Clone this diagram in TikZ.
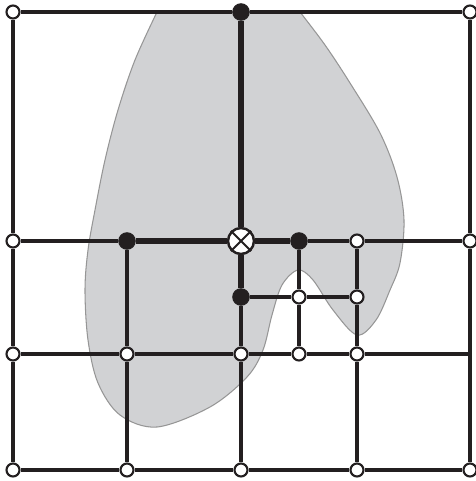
\documentclass[tikz,border=0pt]{standalone}
\usepackage{xcolor}
\usepackage{tikz}
\definecolor{inkdark}{HTML}{231F20}
\definecolor{blobgray}{HTML}{D1D2D4}
\definecolor{blobline}{HTML}{969696}

\begin{document}
\begin{tikzpicture}[x=0.02cm, y=-0.02cm,
    wnode/.style={circle, draw=inkdark, fill=white, line width=1.2pt, inner sep=0pt, minimum size=0.26cm},
    bnode/.style={circle, draw=inkdark, fill=inkdark, line width=0.6pt, inner sep=0pt, minimum size=0.33cm},
    xnode/.style={circle, draw=inkdark, fill=white, line width=1.4pt, inner sep=0pt, minimum size=0.52cm},
    edge/.style={inkdark, line width=2.2pt},
    bold edge/.style={inkdark, line width=3.4pt}]
      \useasboundingbox (0,0) rectangle (476,481);
      \filldraw[fill=blobgray, draw=blobline, line width=0.6pt]
        plot[smooth, tension=0.55] coordinates {(157,12) (135,60) (118,110) (105,160) (95,210) (88,250) (85,290) (88,340) (98,383) (120,415) (157,427) (210,407) (247,377) (263,350) (272,315) (282,285) (298,270) (313,280) (333,310) (357,335) (376,320) (390,290) (400,263) (404,220) (397,177) (380,133) (350,83) (325,45) (300,12)} -- cycle;

      \node[wnode] (tl) at (13,12) {};
      \node[bnode] (tm) at (241,12) {};
      \node[wnode] (tr) at (470,12) {};
      \node[wnode] (ml) at (13,241) {};
      \node[bnode] (m1) at (127,241) {};
      \node[xnode] (mx) at (241,241) {};
      \node[bnode] (m3) at (299,241) {};
      \node[wnode] (m4) at (357,241) {};
      \node[wnode] (mr) at (470,241) {};
      \node[bnode] (s2) at (241,297) {};
      \node[wnode] (s3) at (299,297) {};
      \node[wnode] (s4) at (357,297) {};
      \node[wnode] (l0) at (13,354) {};
      \node[wnode] (l1) at (127,354) {};
      \node[wnode] (l2) at (241,354) {};
      \node[wnode] (l3) at (299,354) {};
      \node[wnode] (l4) at (357,354) {};
      \coordinate (l5) at (470,354);
      \node[wnode] (b0) at (13,470) {};
      \node[wnode] (b1) at (127,470) {};
      \node[wnode] (b2) at (241,470) {};
      \node[wnode] (b4) at (357,470) {};
      \node[wnode] (b5) at (470,470) {};
      \draw[inkdark, line width=1.2pt] (mx.north east) -- (mx.south west) (mx.north west) -- (mx.south east);

      \draw[edge] (tl) -- (tm) (tm) -- (tr);
      \draw[edge] (tl) -- (ml) (ml) -- (l0) (l0) -- (b0);
      \draw[edge] (tr) -- (mr) (mr) -- (l5) -- (b5);
      \draw[edge] (b0) -- (b1) (b1) -- (b2) (b2) -- (b4) (b4) -- (b5);
      \draw[edge] (ml) -- (m1) (m3) -- (m4) (m4) -- (mr);
      \draw[bold edge] (m1) -- (mx) (mx) -- (m3) (tm) -- (mx) (mx) -- (s2);
      \draw[edge] (s2) -- (s3) (s3) -- (s4);
      \draw[edge] (s2) -- (l2) (l2) -- (b2);
      \draw[edge] (m1) -- (l1) (l1) -- (b1);
      \draw[edge] (m3) -- (s3) (s3) -- (l3);
      \draw[edge] (m4) -- (s4) (s4) -- (l4) (l4) -- (b4);
      \draw[edge] (l0) -- (l1) (l1) -- (l2) (l2) -- (l3) (l3) -- (l4) (l4) -- (l5);
    \end{tikzpicture}
\end{document}
